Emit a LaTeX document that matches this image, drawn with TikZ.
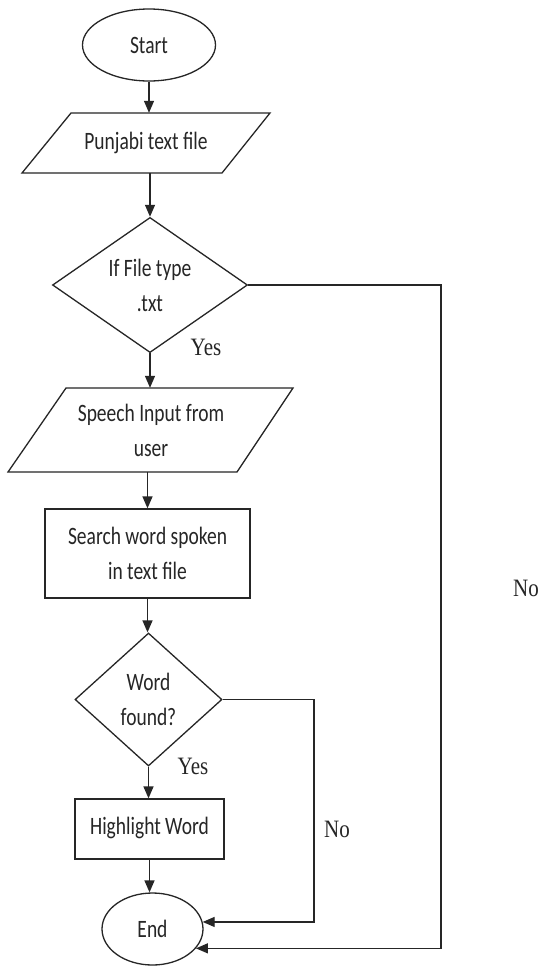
\documentclass[tikz,border=0pt]{standalone}
\usepackage{fontspec}
\setmainfont{Carlito}
\newfontfamily\boxfont[FakeStretch=0.78]{Carlito}
\newfontfamily\lblfont[FakeStretch=0.84]{Liberation Serif}
\usetikzlibrary{shapes.geometric,arrows.meta,calc}
\begin{document}
\begin{tikzpicture}[x=1pt,y=-1pt,
  shapeline/.style={draw=black!85, line width=1.3pt},
  txt/.style={font=\boxfont\fontsize{25}{35}\selectfont, align=center, text=black!85},
  term/.style={ellipse, shapeline, txt, inner sep=0pt},
  proc/.style={rectangle, shapeline, txt, inner sep=0pt},
  dec/.style={diamond, shapeline, txt, inner sep=0pt},
  io/.style={rectangle, draw=none, txt, inner sep=0pt},
  arr/.style={draw=black!85, line width=1.3pt, -{Triangle[length=12pt,width=10pt]}},
  lbl/.style={font=\lblfont\fontsize{25}{28}\selectfont, text=black!85, inner sep=0pt}]
\useasboundingbox (0,0) rectangle (538,967);
\fill[white] (0,0) rectangle (538,967);

% nodes
\node[term, minimum width=133pt, minimum height=72pt] (start) at (149,45) {Start};
\node[io, minimum width=150pt, minimum height=60pt] (p1) at (146,143) {\raisebox{3pt}{Punjabi text file}};
\draw[shapeline] ($(p1.center)+(-75,-30)$) -- ($(p1.center)+(124,-30)$)
  -- ($(p1.center)+(76,30)$) -- ($(p1.center)+(-124,30)$) -- cycle;
\node[dec, minimum width=195pt, minimum height=134pt] (d1) at (150,285) {If File type\\.txt};
\node[io, minimum width=150pt, minimum height=84pt] (p2) at (151,430) {Speech Input from\\user};
\draw[shapeline] ($(p2.center)+(-85,-42)$) -- ($(p2.center)+(142,-42)$)
  -- ($(p2.center)+(86,42)$) -- ($(p2.center)+(-143,42)$) -- cycle;
\node[proc, minimum width=205pt, minimum height=89pt] (r1) at (147.5,553.5) {Search word spoken\\in text file};
\node[dec, minimum width=147pt, minimum height=133pt] (d2) at (148.5,699.5) {Word\\found?};
\node[proc, minimum width=149pt, minimum height=60pt] (r2) at (149.5,829) {\raisebox{6pt}{Highlight Word}};
\node[term, minimum width=101pt, minimum height=72pt] (end) at (152.5,929) {End};

% helper coordinates for the right-hand return lines
\coordinate (rin) at (314,0);
\coordinate (rout) at (441,0);

% connectors
\draw[arr] (start.south) -- (start.south |- p1.north);
\draw[arr] (d1.north |- p1.south) -- (d1.north);
\draw[arr] (d1.south) -- (d1.south |- p2.north);
\draw[arr] (r1.north |- p2.south) -- (r1.north);
\draw[arr] (r1.south) -- (r1.south |- d2.north);
\draw[arr] (d2.south) -- (d2.south |- r2.north);
\draw[arr] (r2.south) -- (r2.south |- end.north);
\draw[arr] (d2.east) -- (d2.east -| rin) |- (end.8);
\draw[arr] (d1.east) -- (d1.east -| rout) |- (end.-24);

% labels
\node[lbl] (yes1) at (206,347) {Yes};
\node[lbl] (yes2) at (193,766) {Yes};
\node[lbl] (no1) at (337,829) {No};
\node[lbl] (no2) at (526,588) {No};
\end{tikzpicture}
\end{document}
